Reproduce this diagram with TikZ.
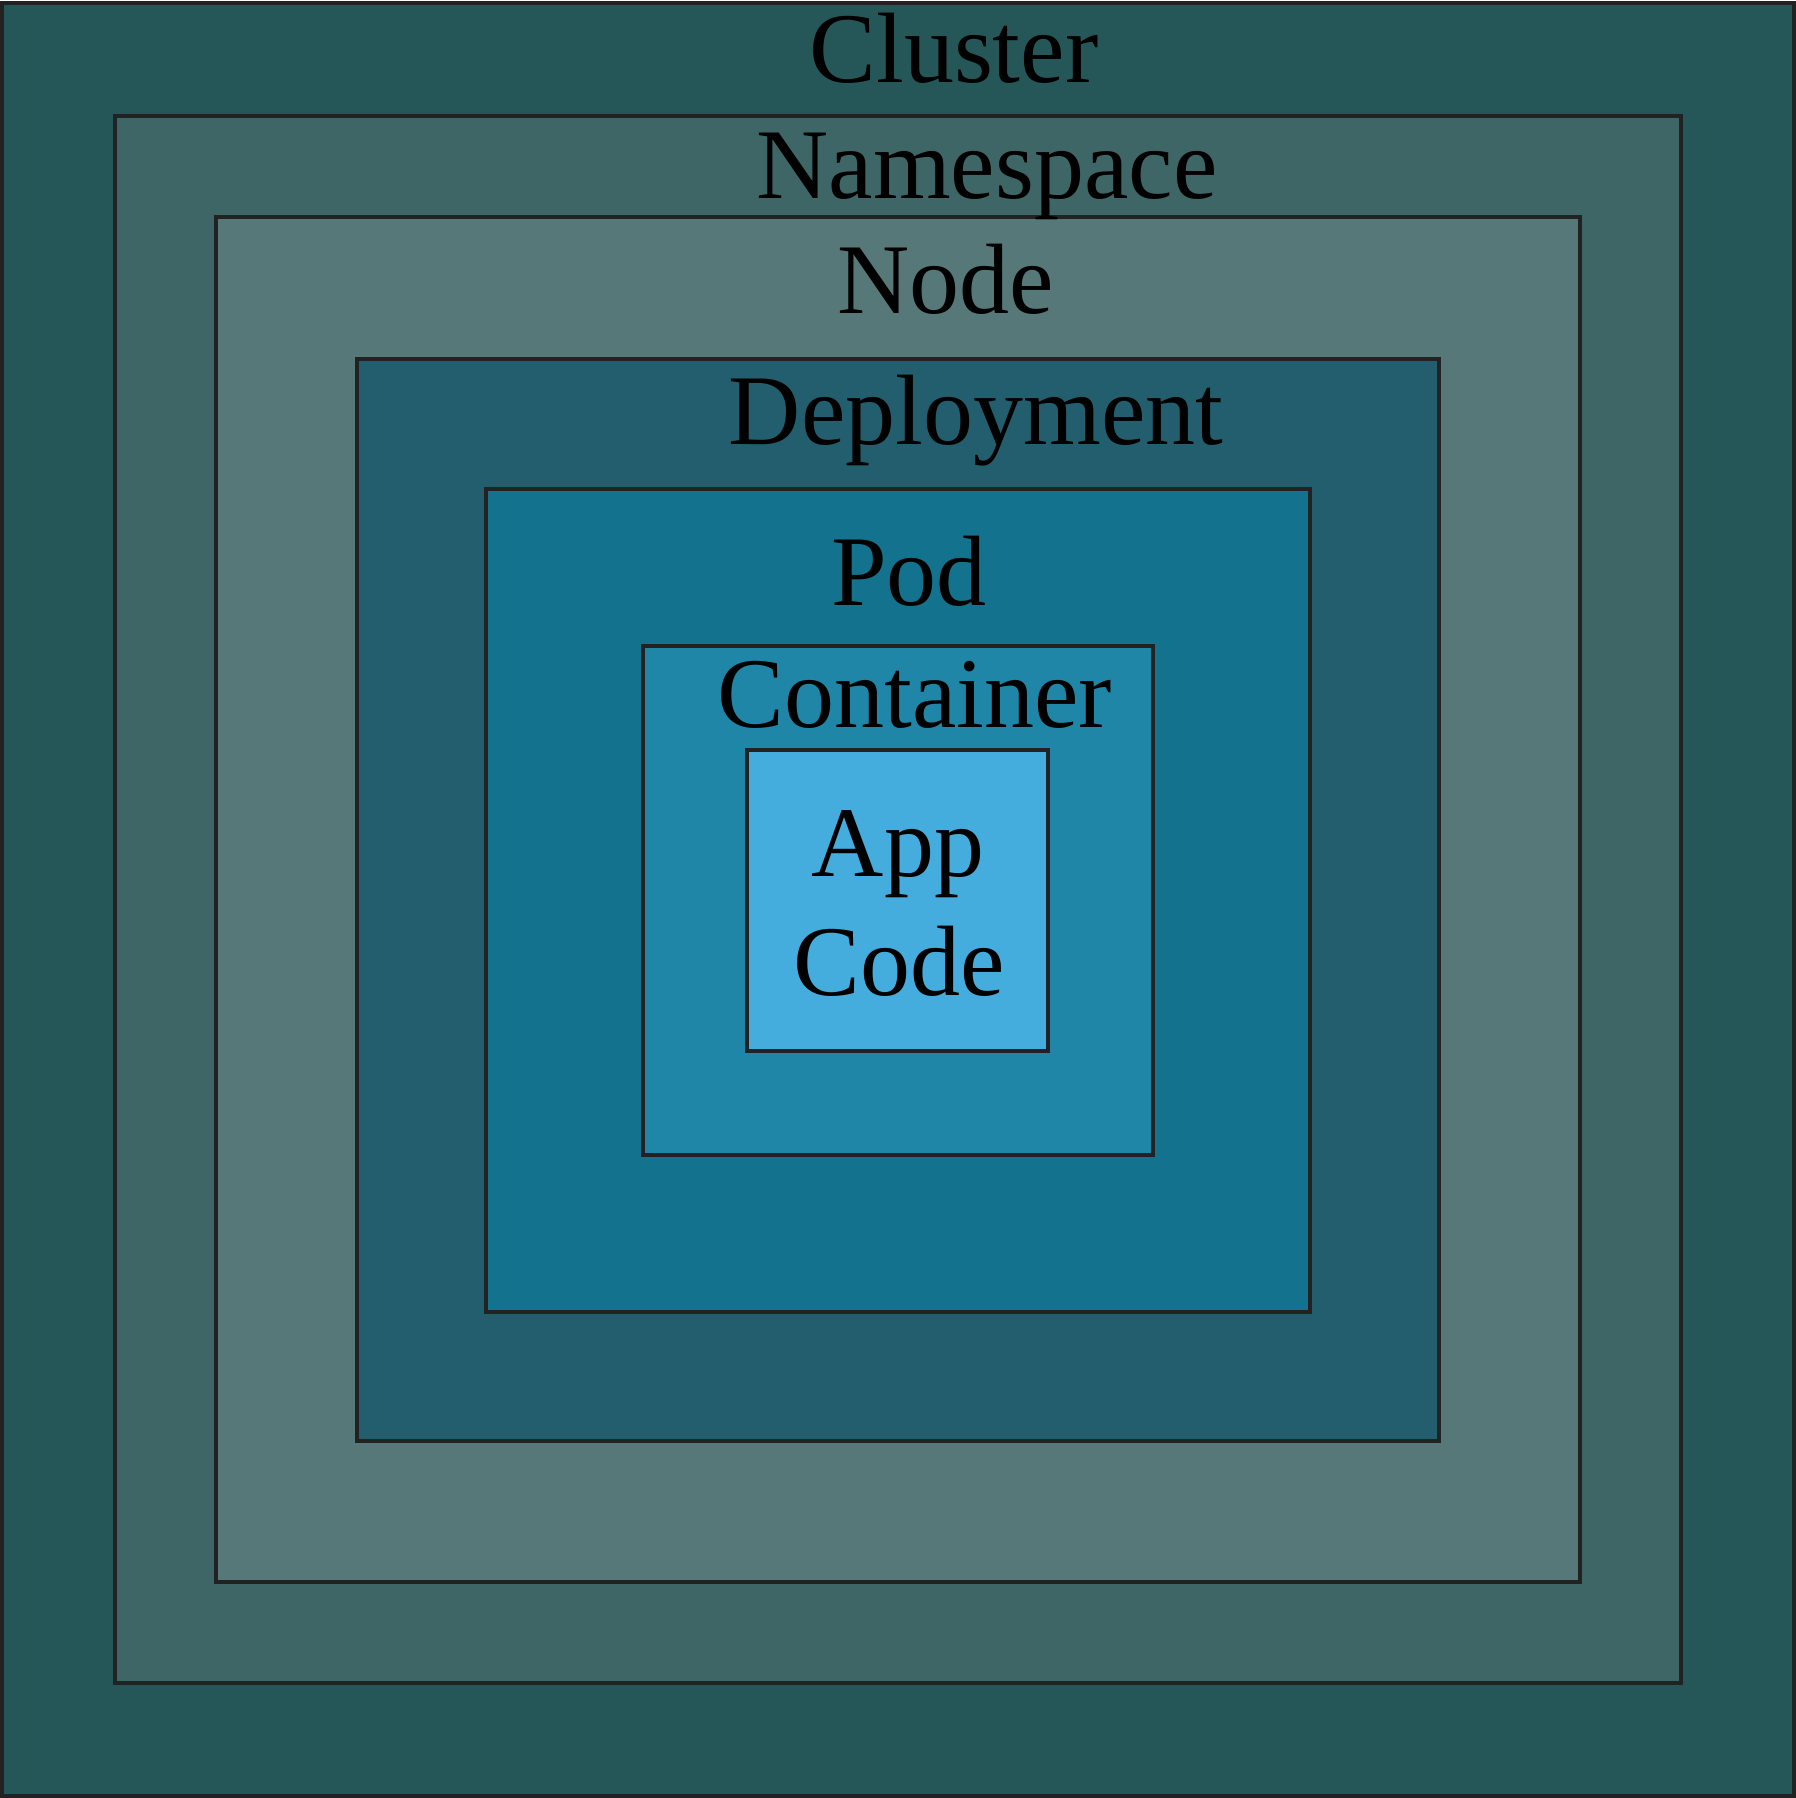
\documentclass[tikz,border=0pt]{standalone}
\usepackage{fontspec}
\setmainfont{Liberation Serif}
\definecolor{cCluster}{HTML}{265758}
\definecolor{cNamespace}{HTML}{3E6667}
\definecolor{cNode}{HTML}{577878}
\definecolor{cDeploy}{HTML}{225E6E}
\definecolor{cPod}{HTML}{13738E}
\definecolor{cContainer}{HTML}{1F86A8}
\definecolor{cApp}{HTML}{45ADDD}
\definecolor{cLine}{HTML}{222222}
\begin{document}
\begin{tikzpicture}[x=0.25pt,y=-0.25pt,
  box/.style={draw=cLine,line width=1pt},
  lbl/.style={anchor=base,inner sep=0pt,font=\fontsize{25}{30}\selectfont,text=black}]
\useasboundingbox (0,0) rectangle (1796,1798);
\draw[box,fill=cCluster] (2,3) rectangle (1794,1796);
\draw[box,fill=cNamespace] (115,116) rectangle (1681,1683);
\draw[box,fill=cNode] (216,217) rectangle (1580,1582);
\draw[box,fill=cDeploy] (357,359) rectangle (1439,1441);
\draw[box,fill=cPod] (486,489) rectangle (1310,1312);
\draw[box,fill=cContainer] (643,646) rectangle (1153,1155);
\draw[box,fill=cApp] (747,750) rectangle (1048,1051);
\node[lbl] (tcluster) at (954,83) {Cluster};
\node[lbl] (tns) at (987,198) {Namespace};
\node[lbl] (tnode) at (946,313) {Node};
\node[lbl] (tdep) at (976,444) {Deployment};
\node[lbl] (tpod) at (909,605) {Pod};
\node[lbl] (tcont) at (915,727) {Container};
\node[lbl] (tapp) at (898,876) {App};
\node[lbl] (tcode) at (899,995) {Code};
\end{tikzpicture}
\end{document}
